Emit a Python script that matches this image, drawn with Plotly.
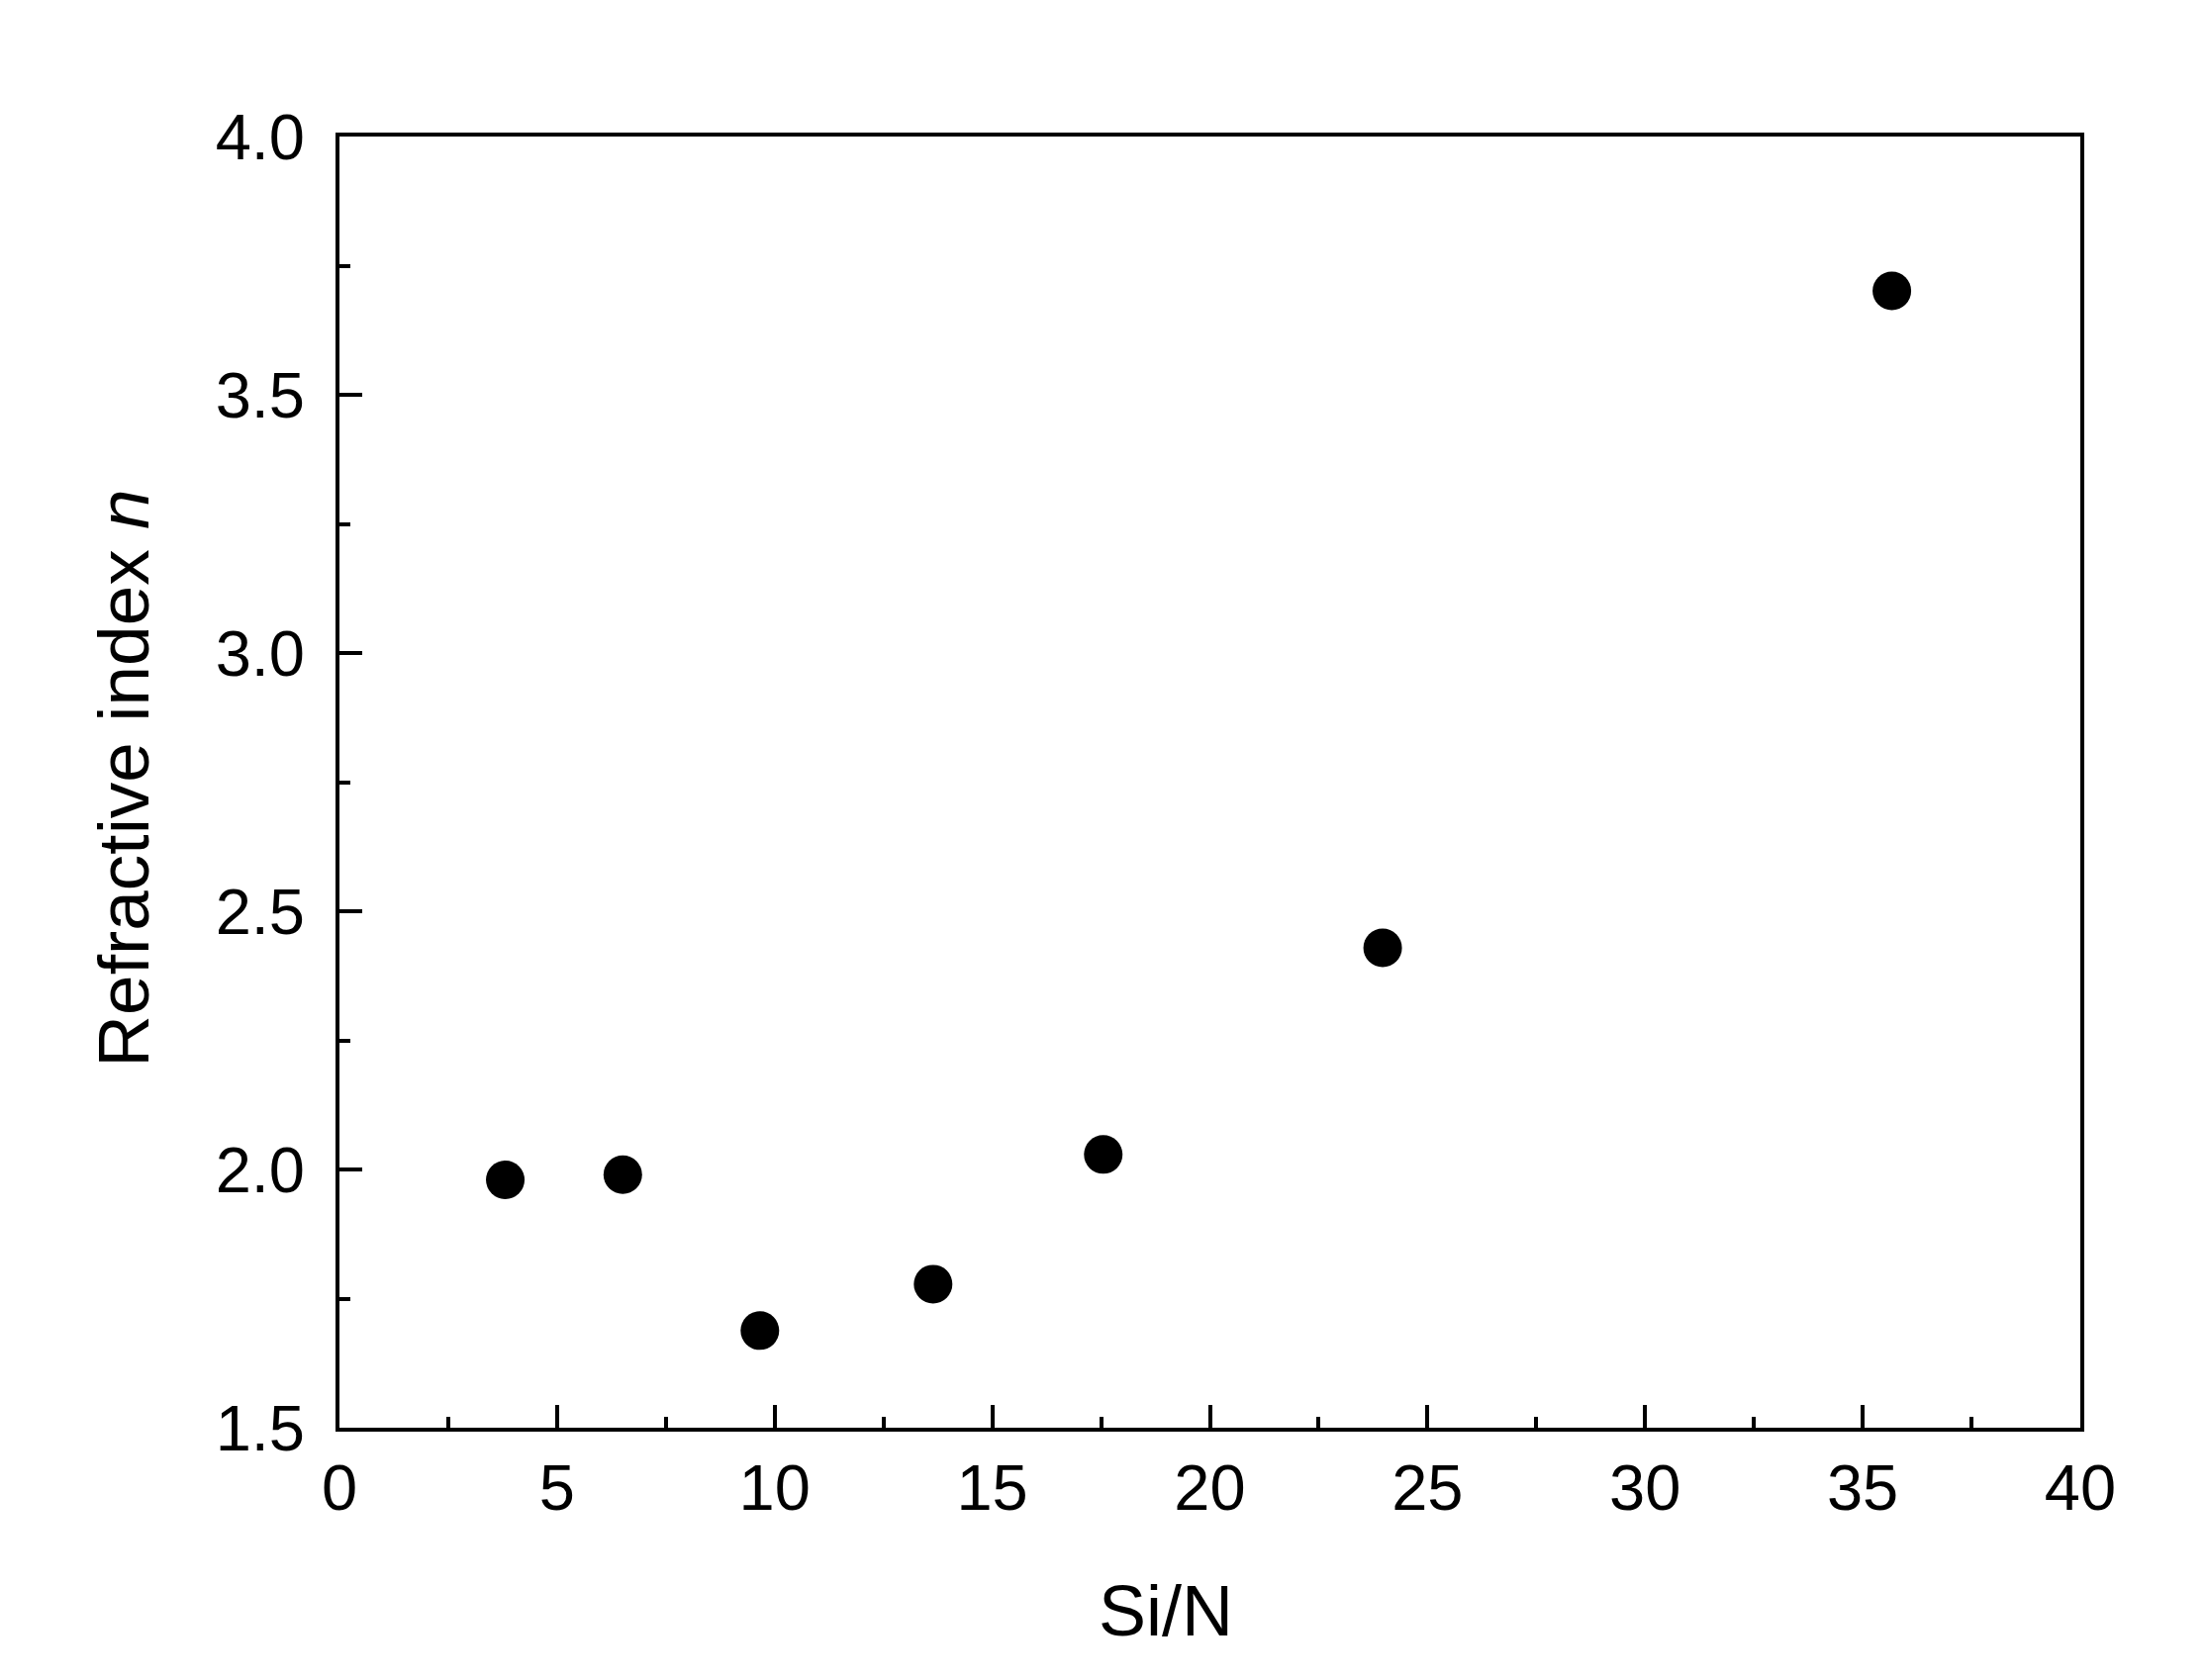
import plotly.graph_objects as go

# Data
si_n = [3.81, 6.51, 9.66, 13.64, 17.55, 23.97, 35.67]
refr_index = [1.980, 1.990, 1.688, 1.778, 2.029, 2.429, 3.701]

x_ticks = [0, 5, 10, 15, 20, 25, 30, 35, 40]
y_ticks = [1.5, 2.0, 2.5, 3.0, 3.5, 4.0]
y_tick_text = ["1.5", "2.0", "2.5", "3.0", "3.5", "4.0"]

FONT = "Liberation Sans, Arial, sans-serif"

fig = go.Figure()
fig.add_trace(go.Scatter(
    x=si_n, y=refr_index, mode="markers",
    marker=dict(size=39, color="black", line=dict(width=0)),
    showlegend=False, cliponaxis=False,
))

axis_common = dict(
    showline=True, linewidth=4, linecolor="black", mirror=True,
    ticks="inside", ticklen=23, tickwidth=4, tickcolor="black",
    showgrid=False, zeroline=False,
    tickfont=dict(family=FONT, size=65, color="black"),
)

fig.update_xaxes(
    range=[0, 40], tickvals=x_ticks, ticktext=[str(v) for v in x_ticks],
    minor=dict(dtick=2.5, tick0=0, ticks="inside", ticklen=11, tickwidth=4,
               tickcolor="black", showgrid=False),
    ticklabelstandoff=1,
    **axis_common,
)
fig.update_yaxes(
    range=[1.5, 4.0], tickvals=y_ticks, ticktext=y_tick_text,
    minor=dict(dtick=0.25, tick0=1.5, ticks="inside", ticklen=11, tickwidth=4,
               tickcolor="black", showgrid=False),
    ticklabelstandoff=18,
    **axis_common,
)

fig.add_annotation(
    text="Si/N", xref="paper", yref="paper", x=0.4747, y=-0.142,
    xanchor="center", yanchor="middle", showarrow=False,
    font=dict(family=FONT, size=72, color="black"),
)
fig.add_annotation(
    text="Refractive index <i>n</i>", xref="paper", yref="paper",
    x=-0.1239, y=0.503, xanchor="center", yanchor="middle",
    textangle=-90, showarrow=False,
    font=dict(family=FONT, size=73, color="black"),
)

fig.update_layout(
    width=2229, height=1698,
    margin=dict(l=335, r=135, t=130, b=263),
    plot_bgcolor="white", paper_bgcolor="white",
)

fig.write_html("out.html")
